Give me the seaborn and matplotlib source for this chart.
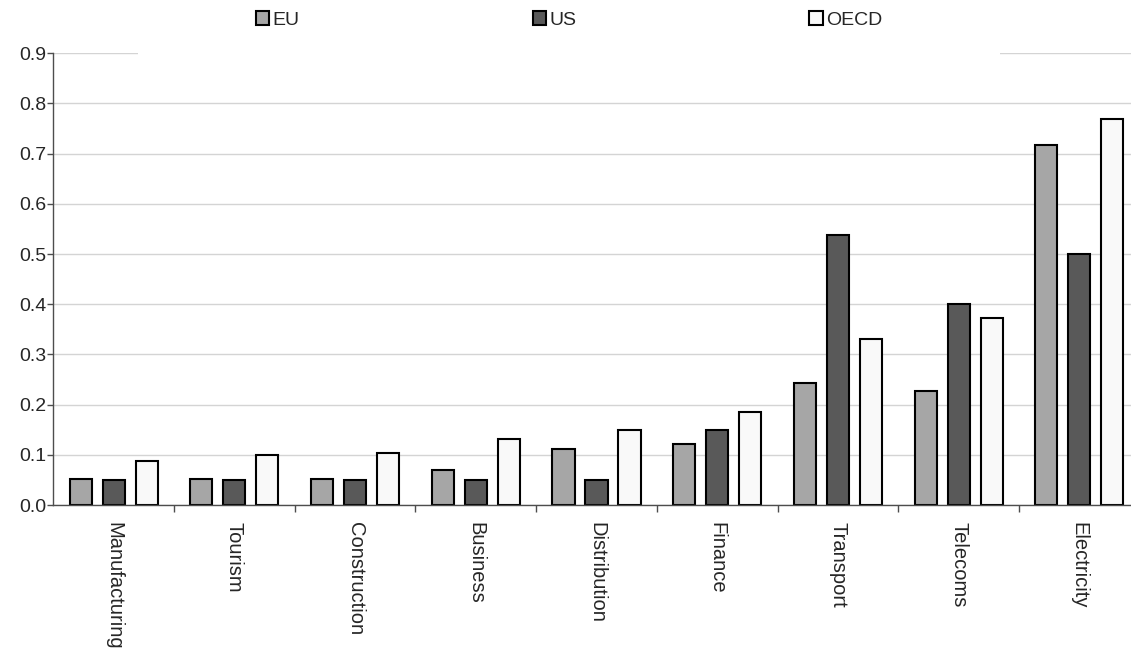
import numpy as np
import pandas as pd
import matplotlib
matplotlib.use("Agg")
import matplotlib.pyplot as plt
import seaborn as sns
from matplotlib.patches import Patch, Rectangle
from matplotlib.ticker import FormatStrFormatter, FixedLocator

# data
sectors = ["Manufacturing", "Tourism", "Construction", "Business", "Distribution",
           "Finance", "Transport", "Telecoms", "Electricity"]
eu = [0.052, 0.052, 0.052, 0.070, 0.112, 0.121, 0.243, 0.227, 0.717]
us = [0.050, 0.050, 0.050, 0.050, 0.050, 0.150, 0.538, 0.400, 0.500]
oecd = [0.088, 0.099, 0.103, 0.132, 0.149, 0.185, 0.331, 0.372, 0.769]
series = ["EU", "US", "OECD"]
colors = ["#a6a6a6", "#595959", "#f9f9f9"]

df = pd.DataFrame({
    "sector": sectors * 3,
    "region": ["EU"] * 9 + ["US"] * 9 + ["OECD"] * 9,
    "value": eu + us + oecd,
})

sns.set_style("white")
plt.rcParams["font.family"] = ["Liberation Sans", "DejaVu Sans"]
plt.rcParams["font.size"] = 14

W, H = 1131, 649
fig = plt.figure(figsize=(W / 100, H / 100), dpi=100)
ax = fig.add_axes([53.3 / W, 1 - 505 / H, (1139.7 - 53.3) / W, (505 - 53.3) / H])

sns.barplot(data=df, x="sector", y="value", hue="region", order=sectors,
            hue_order=series, palette=colors, width=0.82, gap=0.33,
            edgecolor="black", linewidth=1.5, legend=False, ax=ax)

ax.set_xlim(-0.5, 8.5)
ax.set_ylim(0, 0.9)
ax.set_yticks(np.arange(0, 0.91, 0.1))
ax.yaxis.set_major_formatter(FormatStrFormatter("%.1f"))
ax.set_axisbelow(True)
ax.yaxis.grid(True, color="#d4d4d4", linewidth=1)
ax.set_xlabel("")
ax.set_ylabel("")

for s in ["top", "right"]:
    ax.spines[s].set_visible(False)
for s in ["left", "bottom"]:
    ax.spines[s].set_color("#4d4d4d")
    ax.spines[s].set_linewidth(1)

ax.tick_params(axis="y", left=True, length=4, width=1, color="#4d4d4d", pad=1,
               labelsize=14)
ax.tick_params(axis="x", which="major", length=0, pad=12, labelsize=14.5)
ax.set_xticks(range(len(sectors)))
ax.set_xticklabels(sectors, rotation=-90, va="top", ha="center")
ax.xaxis.set_minor_locator(FixedLocator(np.arange(0.5, 8.5, 1)))
ax.tick_params(axis="x", which="minor", bottom=True, length=5, width=1,
               color="#4d4d4d")

# white legend area hides part of the top gridline
ax.add_patch(Rectangle((138 / W, 1 - 62 / H), (1000 - 138) / W, 62 / H,
                       transform=fig.transFigure, facecolor="white",
                       edgecolor="none", clip_on=False, zorder=3))

handles = [Patch(facecolor=c, edgecolor="black", linewidth=1.5) for c in colors]
fig.legend(handles, series, loc="center", bbox_to_anchor=(569 / W, 1 - 20 / H),
           ncol=3, frameon=False, handlelength=0.7, handleheight=0.7,
           handletextpad=0.15, columnspacing=12.0, fontsize=14)

fig.savefig("out.png", dpi=100)
